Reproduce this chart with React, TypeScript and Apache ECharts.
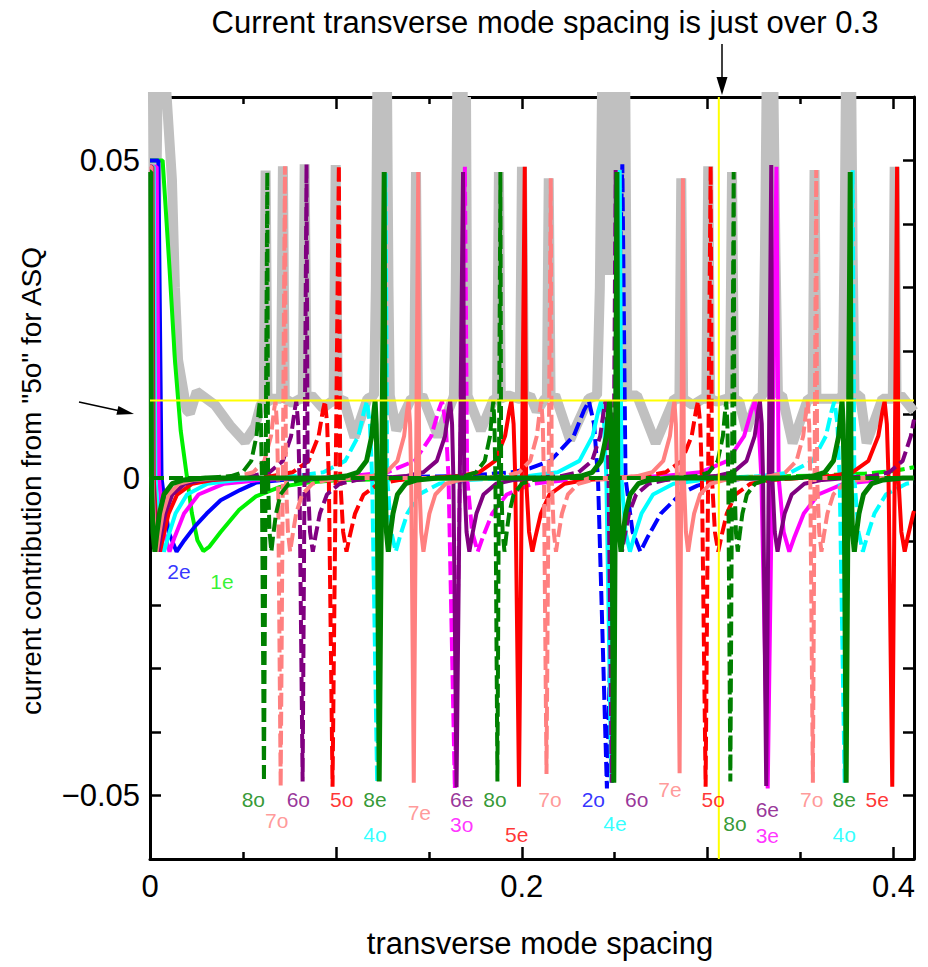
import React, { useEffect, useRef } from 'react';
import * as echarts from 'echarts';

type P = [number, number];

const XMAX = 0.411;
const X_TICKS = [0, 0.2, 0.4];
const X_TICK_LABELS = ['0', '0.2', '0.4'];
const Y_TICKS = [-0.05, 0, 0.05];
const Y_TICK_LABELS = ['\u22120.05', '0', '0.05'];
const YELLOW_X = 0.306;
const YELLOW_Y = 0.0122;

const GRAY: P[] = [[0,0.07],[0.0014,0.07],[0.0024,0.022],[0.0045,0.07],[0.0068,0.07],[0.0118,0.047],[0.0134,0.03],[0.0151,0.0186],[0.0197,0.0107],[0.0215,0.0102],[0.0251,0.0136],[0.035,0.0115],[0.043,0.0083],[0.0511,0.0057],[0.0565,0.0081],[0.0595,0.0115],
[0.0612,0.012],[0.0622,0.0484],[0.0632,0.012],[0.066,0.0125],[0.0695,0.0125],[0.0705,0.0125],[0.0715,0.0491],[0.0725,0.0125],[0.0765,0.0118],[0.081,0.0125],[0.0822,0.0125],[0.0832,0.0494],[0.0842,0.0125],[0.087,0.013],[0.093,0.011],[0.0975,0.012],[0.0988,0.012],[0.0999,0.0493],[0.101,0.012],[0.104,0.0125],[0.11,0.0064],[0.117,0.0125],
[0.1205,0.013],[0.1215,0.03],[0.1225,0.07],[0.1237,0.035],[0.1249,0.07],[0.1261,0.035],[0.1273,0.07],[0.1283,0.03],[0.129,0.013],[0.1325,0.0075],[0.1405,0.0125],[0.1421,0.0125],[0.1431,0.0482],[0.1441,0.0125],[0.1465,0.013],[0.155,0.0065],[0.163,0.0125],
[0.1635,0.013],[0.1645,0.03],[0.1655,0.07],[0.1667,0.035],[0.1679,0.07],[0.1691,0.035],[0.17,0.06],[0.1708,0.013],[0.178,0.0075],[0.185,0.0125],[0.1867,0.0125],[0.1877,0.0482],[0.1887,0.0125],[0.193,0.013],[0.198,0.0125],[0.199,0.0125],[0.2001,0.049],[0.2012,0.0125],[0.2045,0.013],[0.208,0.0105],[0.2125,0.0125],[0.2135,0.0125],[0.2145,0.0472],[0.2155,0.0125],[0.218,0.013],[0.226,0.006],[0.236,0.0125],
[0.2405,0.013],[0.242,0.03],[0.2435,0.07],[0.2455,0.032],[0.2475,0.07],[0.2495,0.032],[0.2515,0.07],[0.2535,0.032],[0.2555,0.07],[0.2567,0.013],[0.262,0.013],[0.272,0.0055],[0.282,0.0125],[0.2848,0.0125],[0.2858,0.0472],[0.2868,0.0125],[0.292,0.0115],[0.2975,0.0125],[0.2993,0.0125],[0.3003,0.0491],[0.3013,0.0125],[0.305,0.012],[0.3105,0.0125],[0.312,0.0125],[0.3131,0.0482],[0.3142,0.0125],[0.317,0.012],[0.3208,0.0075],[0.327,0.0125],
[0.3296,0.013],[0.3308,0.035],[0.332,0.07],[0.3335,0.035],[0.335,0.07],[0.3365,0.035],[0.3378,0.013],[0.34,0.013],[0.3457,0.0055],[0.354,0.0125],[0.3565,0.0125],[0.3575,0.0485],[0.3585,0.0125],[0.3625,0.0125],[0.3705,0.0125],
[0.3726,0.013],[0.3736,0.035],[0.3746,0.07],[0.3758,0.035],[0.377,0.07],[0.378,0.035],[0.379,0.013],[0.382,0.013],[0.3855,0.0055],[0.394,0.0125],[0.3996,0.0125],[0.4006,0.049],[0.4016,0.0125],[0.404,0.013],[0.411,0.0105]];

const M1E: P[] = [[0,0.05],[0.0068,0.05],[0.0105,0.033],[0.0134,0.0186],[0.0165,0.0075],[0.0195,0.001],[0.0225,-0.0055],[0.0255,-0.0098],[0.0287,-0.0115],[0.032,-0.0108],[0.038,-0.0085],[0.048,-0.005],[0.057,-0.0029],[0.07,-0.0014],[0.085,-0.0007],[0.102,-0.0003],[0.15,-0.0001],[0.25,0],[0.411,0]];
const M1O: P[] = [[0,0],[0.28,0],[0.33,0.0002],[0.36,0.0004],[0.385,0.0007],[0.4,0.0011],[0.411,0.0017]];

const M2E: P[] = [[0,0.05],[0.0045,0.05],[0.0062,0],[0.01,-0.0085],[0.0143,-0.0116],[0.0185,-0.0098],[0.0245,-0.0075],[0.0305,-0.0056],[0.038,-0.0035],[0.0484,-0.0019],[0.0574,-0.0007],[0.075,-0.0002],[0.1,0],[0.411,0]];
const M2O: P[] = [[0,0],[0.1,0],[0.1671,0.0003],[0.1947,0.0009],[0.2043,0.0015],[0.2154,0.0027],[0.2279,0.0066],[0.2334,0.0106],[0.2361,0.0121],[0.2389,0.0085],[0.241,0],[0.2458,-0.0489],[0.2541,0.0494],[0.2558,0],[0.2596,-0.0085],[0.2638,-0.0116],[0.2679,-0.0092],[0.2748,-0.0056],[0.2858,-0.0024],[0.2945,-0.0012],[0.3052,-0.0004],[0.33,0],[0.411,0]];

const M3E: P[] = [[0,0.049],[0.0036,0.049],[0.0048,0],[0.0075,-0.0085],[0.0105,-0.0116],[0.0134,-0.0092],[0.0183,-0.0056],[0.0261,-0.0026],[0.0399,-0.0009],[0.0595,-0.0003],[0.08,0],[0.25,0],[0.2764,0.0003],[0.296,0.0009],[0.3107,0.0027],[0.3196,0.0066],[0.3235,0.0106],[0.3254,0.0121],[0.3274,0.0085],[0.3289,0],[0.3323,-0.0489],[0.337,0.049],[0.3382,0],[0.3409,-0.0085],[0.3439,-0.0116],[0.3468,-0.0092],[0.3517,-0.0056],[0.3595,-0.0026],[0.3733,-0.0009],[0.3929,-0.0003],[0.411,0]];
const M3O: P[] = [[0,0],[0.09,0],[0.1081,0.0003],[0.1277,0.0009],[0.1424,0.0027],[0.1513,0.0066],[0.1552,0.0106],[0.1571,0.0121],[0.1591,0.0085],[0.1606,0],[0.164,-0.0489],[0.1694,0.049],[0.1706,0],[0.1733,-0.0085],[0.1763,-0.0116],[0.1792,-0.0092],[0.1841,-0.0056],[0.1919,-0.0026],[0.2057,-0.0009],[0.2253,-0.0003],[0.25,0],[0.411,0]];

const M4E: P[] = [[0,0.049],[0.002,0.049],[0.0029,0],[0.0051,-0.0085],[0.0075,-0.0116],[0.0098,-0.0092],[0.0137,-0.0056],[0.0199,-0.0026],[0.0309,-0.0009],[0.0465,-0.0003],[0.065,0],[0.185,0],[0.2037,0.0003],[0.2193,0.0009],[0.231,0.0027],[0.2381,0.0066],[0.2412,0.0106],[0.2427,0.0121],[0.2443,0.0085],[0.2455,0],[0.2482,-0.048],[0.2527,0.0485],[0.2536,0],[0.2558,-0.0085],[0.2582,-0.0116],[0.2605,-0.0092],[0.2644,-0.0056],[0.2706,-0.0026],[0.2816,-0.0009],[0.2972,-0.0003],[0.32,0],[0.411,0]];
const M4O: P[] = [[0,0],[0.06,0],[0.0777,0.0003],[0.0933,0.0009],[0.105,0.0027],[0.1121,0.0066],[0.1152,0.0106],[0.1167,0.0121],[0.1183,0.0085],[0.1195,0],[0.1222,-0.048],[0.1267,0.048],[0.1276,0],[0.1298,-0.0085],[0.1322,-0.0116],[0.1345,-0.0092],[0.1384,-0.0056],[0.1446,-0.0026],[0.1556,-0.0009],[0.1712,-0.0003],[0.195,0],[0.31,0],[0.3292,0.0003],[0.3448,0.0009],[0.3565,0.0027],[0.3636,0.0066],[0.3667,0.0106],[0.3682,0.0121],[0.3698,0.0085],[0.371,0],[0.3737,-0.048],[0.378,0.0485],[0.3789,0],[0.3811,-0.0085],[0.3835,-0.0116],[0.3858,-0.0092],[0.3897,-0.0056],[0.3959,-0.0026],[0.4069,-0.0009],[0.411,-0.0007]];

const M5E: P[] = [[0,0.049],[0.0013,0.049],[0.002,0],[0.0036,-0.0085],[0.0054,-0.0116],[0.0071,-0.0092],[0.01,-0.0056],[0.0146,-0.0026],[0.0228,-0.0009],[0.0344,-0.0003],[0.05,0],[0.15,0],[0.1654,0.0003],[0.177,0.0009],[0.1857,0.0027],[0.191,0.0066],[0.1933,0.0106],[0.1944,0.0121],[0.1956,0.0085],[0.1965,0],[0.1985,-0.0486],[0.2016,0.049],[0.2023,0],[0.2039,-0.0085],[0.2057,-0.0116],[0.2074,-0.0092],[0.2103,-0.0056],[0.2149,-0.0026],[0.2231,-0.0009],[0.2347,-0.0003],[0.25,0],[0.35,0],[0.3662,0.0003],[0.3778,0.0009],[0.3865,0.0027],[0.3918,0.0066],[0.3941,0.0106],[0.3952,0.0121],[0.3964,0.0085],[0.3973,0],[0.3993,-0.0486],[0.4019,0.049],[0.4026,0],[0.4042,-0.0085],[0.406,-0.0116],[0.4077,-0.0092],[0.4106,-0.0056],[0.411,-0.0052]];
const M5O: P[] = [[0,0],[0.05,0],[0.0651,0.0003],[0.0767,0.0009],[0.0854,0.0027],[0.0907,0.0066],[0.093,0.0106],[0.0941,0.0121],[0.0953,0.0085],[0.0962,0],[0.0982,-0.0486],[0.1016,0.0493],[0.1023,0],[0.1039,-0.0085],[0.1057,-0.0116],[0.1074,-0.0092],[0.1103,-0.0056],[0.1149,-0.0026],[0.1231,-0.0009],[0.1347,-0.0003],[0.15,0],[0.25,0],[0.2658,0.0003],[0.2774,0.0009],[0.2861,0.0027],[0.2914,0.0066],[0.2937,0.0106],[0.2948,0.0121],[0.296,0.0085],[0.2969,0],[0.2989,-0.0486],[0.3016,0.0491],[0.3023,0],[0.3039,-0.0085],[0.3057,-0.0116],[0.3074,-0.0092],[0.3103,-0.0056],[0.3149,-0.0026],[0.3231,-0.0009],[0.3347,-0.0003],[0.35,0],[0.411,0]];

const M6E: P[] = [[0,0.049],[0.001,0.049],[0.0016,0],[0.0029,-0.0085],[0.0044,-0.0116],[0.0058,-0.0092],[0.0082,-0.0056],[0.012,-0.0026],[0.0188,-0.0009],[0.0284,-0.0003],[0.045,0],[0.125,0],[0.1375,0.0003],[0.1471,0.0009],[0.1543,0.0027],[0.1587,0.0066],[0.1606,0.0106],[0.1615,0.0121],[0.1625,0.0085],[0.1632,0],[0.1649,-0.0487],[0.1684,0.0482],[0.169,0],[0.1703,-0.0085],[0.1718,-0.0116],[0.1732,-0.0092],[0.1756,-0.0056],[0.1794,-0.0026],[0.1862,-0.0009],[0.1958,-0.0003],[0.21,0],[0.29,0],[0.3041,0.0003],[0.3137,0.0009],[0.3209,0.0027],[0.3253,0.0066],[0.3272,0.0106],[0.3281,0.0121],[0.3291,0.0085],[0.3298,0],[0.3315,-0.0485],[0.3342,0.0493],[0.3348,0],[0.3361,-0.0085],[0.3376,-0.0116],[0.339,-0.0092],[0.3414,-0.0056],[0.3452,-0.0026],[0.352,-0.0009],[0.3616,-0.0003],[0.375,0],[0.411,0]];
const M6O: P[] = [[0,0],[0.04,0],[0.0547,0.0003],[0.0643,0.0009],[0.0715,0.0027],[0.0759,0.0066],[0.0778,0.0106],[0.0787,0.0121],[0.0797,0.0085],[0.0804,0],[0.0821,-0.0478],[0.0842,0.0494],[0.0848,0],[0.0861,-0.0085],[0.0876,-0.0116],[0.089,-0.0092],[0.0914,-0.0056],[0.0952,-0.0026],[0.102,-0.0009],[0.1116,-0.0003],[0.125,0],[0.205,0],[0.221,0.0003],[0.2306,0.0009],[0.2378,0.0027],[0.2422,0.0066],[0.2441,0.0106],[0.245,0.0121],[0.246,0.0085],[0.2467,0],[0.2484,-0.048],[0.2505,0.0485],[0.2511,0],[0.2524,-0.0085],[0.2539,-0.0116],[0.2553,-0.0092],[0.2577,-0.0056],[0.2615,-0.0026],[0.2683,-0.0009],[0.2779,-0.0003],[0.29,0],[0.37,0],[0.3881,0.0003],[0.3977,0.0009],[0.4049,0.0027],[0.4093,0.0066],[0.411,0.0092]];

const M7E: P[] = [[0,0.049],[0.0008,0.049],[0.0013,0],[0.0024,-0.0085],[0.0036,-0.0116],[0.0048,-0.0092],[0.0068,-0.0056],[0.01,-0.0026],[0.0156,-0.0009],[0.0236,-0.0003],[0.04,0],[0.105,0],[0.1191,0.0003],[0.1271,0.0009],[0.1331,0.0027],[0.1367,0.0066],[0.1383,0.0106],[0.1391,0.0121],[0.1399,0.0085],[0.1405,0],[0.1419,-0.048],[0.1443,0.0482],[0.1448,0],[0.1459,-0.0085],[0.1471,-0.0116],[0.1483,-0.0092],[0.1503,-0.0056],[0.1535,-0.0026],[0.1591,-0.0009],[0.1671,-0.0003],[0.18,0],[0.25,0],[0.2621,0.0003],[0.2701,0.0009],[0.2761,0.0027],[0.2797,0.0066],[0.2813,0.0106],[0.2821,0.0121],[0.2829,0.0085],[0.2835,0],[0.2849,-0.0465],[0.2867,0.0472],[0.2872,0],[0.2883,-0.0085],[0.2895,-0.0116],[0.2907,-0.0092],[0.2927,-0.0056],[0.2959,-0.0026],[0.3015,-0.0009],[0.3095,-0.0003],[0.325,0],[0.411,0]];
const M7O: P[] = [[0,0],[0.035,0],[0.0475,0.0003],[0.0555,0.0009],[0.0615,0.0027],[0.0651,0.0066],[0.0667,0.0106],[0.0675,0.0121],[0.0683,0.0085],[0.0689,0],[0.0703,-0.0486],[0.0726,0.0491],[0.0731,0],[0.0742,-0.0085],[0.0754,-0.0116],[0.0766,-0.0092],[0.0786,-0.0056],[0.0818,-0.0026],[0.0874,-0.0009],[0.0954,-0.0003],[0.11,0],[0.175,0],[0.1905,0.0003],[0.1985,0.0009],[0.2045,0.0027],[0.2081,0.0066],[0.2097,0.0106],[0.2105,0.0121],[0.2113,0.0085],[0.2119,0],[0.2133,-0.0466],[0.2156,0.0472],[0.2161,0],[0.2172,-0.0085],[0.2184,-0.0116],[0.2196,-0.0092],[0.2216,-0.0056],[0.2248,-0.0026],[0.2304,-0.0009],[0.2384,-0.0003],[0.255,0],[0.32,0],[0.3338,0.0003],[0.3418,0.0009],[0.3478,0.0027],[0.3514,0.0066],[0.353,0.0106],[0.3538,0.0121],[0.3546,0.0085],[0.3552,0],[0.3566,-0.048],[0.3584,0.0485],[0.3589,0],[0.36,-0.0085],[0.3612,-0.0116],[0.3624,-0.0092],[0.3644,-0.0056],[0.3676,-0.0026],[0.3732,-0.0009],[0.3812,-0.0003],[0.395,0],[0.411,0]];

const M8O: P[] = [[0,0],[0.03,0],[0.0436,0.0003],[0.0498,0.0009],[0.0545,0.0027],[0.0573,0.0066],[0.0585,0.0106],[0.0591,0.0121],[0.0597,0.0085],[0.0602,0],[0.0613,-0.0478],[0.0631,0.0482],[0.0635,0],[0.0643,-0.0085],[0.0653,-0.0116],[0.0662,-0.0092],[0.0678,-0.0056],[0.0702,-0.0026],[0.0746,-0.0009],[0.0808,-0.0003],[0.095,0],[0.155,0],[0.1692,0.0003],[0.1754,0.0009],[0.1801,0.0027],[0.1829,0.0066],[0.1841,0.0106],[0.1847,0.0121],[0.1853,0.0085],[0.1858,0],[0.1869,-0.0478],[0.1885,0.0482],[0.1889,0],[0.1897,-0.0085],[0.1907,-0.0116],[0.1916,-0.0092],[0.1932,-0.0056],[0.1956,-0.0026],[0.2,-0.0009],[0.2062,-0.0003],[0.22,0],[0.28,0],[0.2945,0.0003],[0.3007,0.0009],[0.3054,0.0027],[0.3082,0.0066],[0.3094,0.0106],[0.31,0.0121],[0.3106,0.0085],[0.3111,0],[0.3122,-0.0478],[0.314,0.0482],[0.3144,0],[0.3152,-0.0085],[0.3162,-0.0116],[0.3171,-0.0092],[0.3187,-0.0056],[0.3211,-0.0026],[0.3255,-0.0009],[0.3317,-0.0003],[0.345,0],[0.411,0]];
const M8E: P[] = [[0,0.0482],[0.0004,0.0482],[0.0008,0],[0.0016,-0.0085],[0.0026,-0.0116],[0.0035,-0.0092],[0.0051,-0.0056],[0.0075,-0.0026],[0.0119,-0.0009],[0.0181,-0.0003],[0.03,0],[0.095,0],[0.1056,0.0003],[0.1118,0.0009],[0.1165,0.0027],[0.1193,0.0066],[0.1205,0.0106],[0.1211,0.0121],[0.1217,0.0085],[0.1222,0],[0.1233,-0.0478],[0.126,0.0482],[0.1264,0],[0.1272,-0.0085],[0.1282,-0.0116],[0.1291,-0.0092],[0.1307,-0.0056],[0.1331,-0.0026],[0.1375,-0.0009],[0.1437,-0.0003],[0.155,0],[0.22,0],[0.2318,0.0003],[0.238,0.0009],[0.2427,0.0027],[0.2455,0.0066],[0.2467,0.0106],[0.2473,0.0121],[0.2479,0.0085],[0.2484,0],[0.2495,-0.048],[0.2512,0.0482],[0.2516,0],[0.2524,-0.0085],[0.2534,-0.0116],[0.2543,-0.0092],[0.2559,-0.0056],[0.2583,-0.0026],[0.2627,-0.0009],[0.2689,-0.0003],[0.28,0],[0.345,0],[0.3568,0.0003],[0.363,0.0009],[0.3677,0.0027],[0.3705,0.0066],[0.3717,0.0106],[0.3723,0.0121],[0.3729,0.0085],[0.3734,0],[0.3745,-0.048],[0.3767,0.0482],[0.3771,0],[0.3779,-0.0085],[0.3789,-0.0116],[0.3798,-0.0092],[0.3814,-0.0056],[0.3838,-0.0026],[0.3882,-0.0009],[0.3944,-0.0003],[0.405,0],[0.411,0]];

const COLORS: Record<number, string> = {
  1: '#00f000', 2: '#0000ff', 3: '#ff00ff', 4: '#00ffff',
  5: '#ff0000', 6: '#800080', 7: '#ff8080', 8: '#008000',
};

// [name, mode, dashed, data]
const SERIES_LIST: [string, number, boolean, P[]][] = [
  ['1e', 1, false, M1E], ['1o', 1, true, M1O],
  ['2e', 2, false, M2E], ['2o', 2, true, M2O],
  ['3e', 3, false, M3E], ['3o', 3, true, M3O],
  ['4e', 4, false, M4E], ['4o', 4, true, M4O],
  ['5e', 5, false, M5E], ['5o', 5, true, M5O],
  ['6e', 6, false, M6E], ['6o', 6, true, M6O],
  ['7e', 7, false, M7E], ['7o', 7, true, M7O],
  ['8o', 8, true, M8O], ['8e', 8, false, M8E],
];

// [text, mode, x, y]
const LABELS: [string, number, number, number][] = [
  ['2e', 2, 0.0156, -0.0148], ['1e', 1, 0.0387, -0.0163],
  ['8o', 8, 0.0556, -0.0507], ['7o', 7, 0.0682, -0.0539], ['6o', 6, 0.0798, -0.0507],
  ['5o', 5, 0.1031, -0.0507], ['8e', 8, 0.121, -0.0507], ['4o', 4, 0.121, -0.0561],
  ['7e', 7, 0.1449, -0.0526], ['6e', 6, 0.1677, -0.0506], ['3o', 3, 0.1677, -0.0546],
  ['8o', 8, 0.1856, -0.0507], ['5e', 5, 0.1973, -0.0561], ['7o', 7, 0.2152, -0.0507],
  ['2o', 2, 0.2385, -0.0507], ['4e', 4, 0.2501, -0.0544], ['6o', 6, 0.2618, -0.0507],
  ['7e', 7, 0.2797, -0.049], ['5o', 5, 0.303, -0.0507], ['8o', 8, 0.3147, -0.0544],
  ['6e', 6, 0.3321, -0.0522], ['3e', 3, 0.3321, -0.0563], ['7o', 7, 0.356, -0.0507],
  ['8e', 8, 0.3735, -0.0507], ['4o', 4, 0.3735, -0.0561], ['5e', 5, 0.3912, -0.0507],
];

const FONT = '"Liberation Sans", Arial, Helvetica, sans-serif';

function pickLabel(v: number, ticks: number[], labels: string[]): string {
  for (let i = 0; i < ticks.length; i++) {
    if (Math.abs(v - ticks[i]) < 1e-6) return labels[i];
  }
  return '';
}

function buildOption(): any {
  const xCommon = {
    type: 'value', min: 0, max: XMAX, interval: 0.1,
    axisLine: { show: true, onZero: false, lineStyle: { color: '#000', width: 3 } },
    axisTick: { show: true, inside: true, length: 12, lineStyle: { color: '#000', width: 2.5 } },
    minorTick: { show: true, splitNumber: 2, length: 7, lineStyle: { color: '#000', width: 2.5 } },
    splitLine: { show: false }, minorSplitLine: { show: false },
  };
  const yCommon = {
    type: 'value', min: -0.06, max: 0.06, interval: 0.01,
    axisLine: { show: true, onZero: false, lineStyle: { color: '#000', width: 3 } },
    axisTick: { show: true, inside: true, length: 11, lineStyle: { color: '#000', width: 2.5 } },
    splitLine: { show: false },
  };
  const series: any[] = [];
  series.push({
    type: 'line', data: GRAY, showSymbol: false, symbol: 'none', silent: true,
    lineStyle: { color: '#c0c0c0', width: 10 }, z: 1,
  });
  SERIES_LIST.forEach(([name, mode, dashed, data], i) => {
    series.push({
      name, type: 'line', data, showSymbol: false, symbol: 'none', silent: true,
      lineStyle: { color: COLORS[mode], width: name === '8e' ? 5 : 4, type: dashed ? [14, 5] : 'solid' },
      z: 2 + i,
    });
  });
  series.push({
    type: 'line', data: [[0, YELLOW_Y], [XMAX, YELLOW_Y]], showSymbol: false, symbol: 'none', silent: true,
    lineStyle: { color: '#ffff00', width: 2 }, z: 30,
  });
  series.push({
    type: 'line', data: [[YELLOW_X, -0.06], [YELLOW_X, 0.06]], showSymbol: false, symbol: 'none', silent: true,
    lineStyle: { color: '#ffff00', width: 2 }, z: 30,
  });
  series.push({
    type: 'scatter', symbolSize: 1, silent: true, z: 40,
    itemStyle: { color: 'rgba(0,0,0,0)' },
    label: { show: true, position: 'inside', fontSize: 21, fontFamily: FONT },
    data: LABELS.map(([t, mode, x, y]) => ({
      value: [x, y],
      label: { show: true, position: 'inside', formatter: t, color: COLORS[mode], fontSize: 21, fontFamily: FONT },
    })),
  });

  return {
    animation: false,
    backgroundColor: '#ffffff',
    grid: { left: 150, top: 97, width: 764, height: 762, containLabel: false },
    xAxis: [
      { ...xCommon, position: 'bottom',
        axisLabel: { show: true, fontSize: 31, color: '#000', fontFamily: FONT, margin: 12,
          formatter: (v: number) => pickLabel(v, X_TICKS, X_TICK_LABELS) } },
      { ...xCommon, position: 'top', axisLabel: { show: false } },
    ],
    yAxis: [
      { ...yCommon, position: 'left',
        axisLabel: { show: true, fontSize: 31, color: '#000', fontFamily: FONT, margin: 10,
          formatter: (v: number) => pickLabel(v, Y_TICKS, Y_TICK_LABELS) } },
      { ...yCommon, position: 'right', axisLabel: { show: false } },
    ],
    series,
    graphic: [
      { type: 'text', x: 545, y: 22, silent: true,
        style: { text: 'Current transverse mode spacing is just over 0.3', fill: '#000', fontSize: 31, fontFamily: FONT,
          align: 'center', verticalAlign: 'middle', textAlign: 'center', textVerticalAlign: 'middle' } },
      { type: 'text', x: 540, y: 943, silent: true,
        style: { text: 'transverse mode spacing', fill: '#000', fontSize: 31, fontFamily: FONT,
          align: 'center', verticalAlign: 'middle', textAlign: 'center', textVerticalAlign: 'middle' } },
      { type: 'text', x: 31, y: 481, rotation: Math.PI / 2, silent: true,
        style: { text: 'current contribution from "5o" for ASQ', fill: '#000', fontSize: 28, fontFamily: FONT,
          align: 'center', verticalAlign: 'middle', textAlign: 'center', textVerticalAlign: 'middle' } },
      { type: 'line', silent: true, shape: { x1: 722, y1: 44, x2: 722, y2: 80 }, style: { stroke: '#000', lineWidth: 1.5 } },
      { type: 'polygon', silent: true, shape: { points: [[716.5, 77], [727.5, 77], [722, 95]] }, style: { fill: '#000' } },
      { type: 'line', silent: true, shape: { x1: 79, y1: 402, x2: 118, y2: 410.5 }, style: { stroke: '#000', lineWidth: 1.5 } },
      { type: 'polygon', silent: true, shape: { points: [[134, 414], [116.4, 414.8], [118.4, 406.0]] }, style: { fill: '#000' } },
    ],
  };
}

export default function App() {
  const ref = useRef<HTMLDivElement>(null);
  useEffect(() => {
    if (!ref.current) return;
    const chart = echarts.init(ref.current, null, { renderer: 'svg' });
    chart.setOption(buildOption());
    return () => { chart.dispose(); };
  }, []);
  return (
    <div ref={ref} style={{ position: 'fixed', left: 0, top: 0, width: 928, height: 967, background: '#fff' }} />
  );
}
